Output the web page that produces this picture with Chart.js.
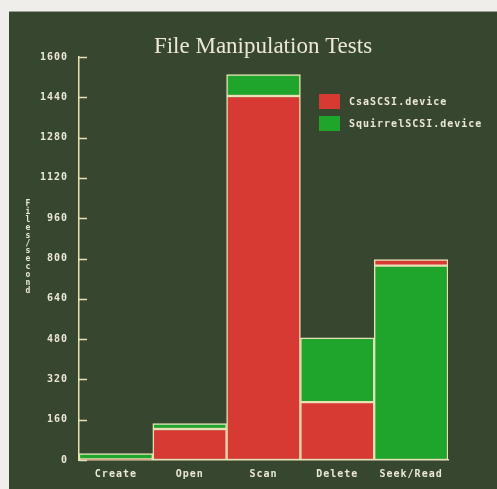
<!DOCTYPE html>
<html>
<head>
<meta charset="utf-8">
<script src="https://cdn.jsdelivr.net/npm/chart.js@4"></script>
<style>
  html, body { margin: 0; padding: 0; background: #efeeea; }
  #frame { position: relative; width: 497px; height: 489px; overflow: hidden; }
  #panel { position: absolute; left: 9px; top: 11px; width: 488px; height: 478px; background: #37462f; border-top: 1px solid #9aa092; }
  canvas { display: block; }
</style>
</head>
<body>
<div id="frame">
  <div id="panel"><canvas id="mainChart" width="488" height="478"></canvas></div>
</div>
<script>
const labels = ['Create', 'Open', 'Scan', 'Delete', 'Seek/Read'];
const csaValues = [2, 123, 1445, 230, 796];
const squirrelValues = [25, 145, 1530, 485, 772];
const yTicks = [0, 160, 320, 480, 640, 800, 960, 1120, 1280, 1440, 1600];
const chartTitle = 'File Manipulation Tests';
const yTitle = 'Files/second';

const RED = '#d63a33', GREEN = '#1fa42c', EDGE = '#e6e2b6', INK = '#ebe8da';
const MONO = "'DejaVu Sans Mono', monospace";

// overlapped bars: the smaller value sits in front, the larger one shows above it
function overlap(mine, other) {
    return mine.map((v, i) => v <= other[i] ? [0, v] : [other[i], v]);
}

const axisDeco = {
    id: 'axisDeco',
    beforeDraw(chart) {
        chart.ctx.letterSpacing = '1px';
    },
    afterDraw(chart) {
        const ctx = chart.ctx, y = chart.scales.y, a = chart.chartArea;
        ctx.save();
        ctx.letterSpacing = '0px';
        ctx.strokeStyle = EDGE;
        ctx.lineWidth = 1.5;
        yTicks.forEach(t => {
            let py = Math.round(y.getPixelForValue(t)) + 0.5;
            ctx.beginPath(); ctx.moveTo(a.left, py); ctx.lineTo(a.left + 8, py); ctx.stroke();
        });
        // title
        ctx.fillStyle = INK;
        ctx.font = "23px 'Liberation Serif', serif";
        ctx.textAlign = 'center';
        ctx.textBaseline = 'middle';
        ctx.fillText(chartTitle, 254, 35);
        // stacked y title
        ctx.font = 'bold 8px ' + MONO;
        yTitle.split('').forEach((c, i) => ctx.fillText(c, 19, 192 + i * 7.9));
        // legend
        ctx.font = 'bold 10px ' + MONO;
        ctx.letterSpacing = '1px';
        chart.data.datasets.forEach((ds, i) => {
            let ly = 82 + i * 22;
            ctx.fillStyle = ds.backgroundColor;
            ctx.fillRect(310, ly, 21, 15);
            ctx.fillStyle = INK;
            ctx.textAlign = 'left';
            ctx.fillText(ds.label, 340, ly + 8);
        });
        ctx.restore();
    }
};

new Chart(document.getElementById('mainChart'), {
    type: 'bar',
    data: {
        labels: labels,
        datasets: [
            { label: 'CsaSCSI.device', data: overlap(csaValues, squirrelValues), backgroundColor: RED },
            { label: 'SquirrelSCSI.device', data: overlap(squirrelValues, csaValues), backgroundColor: GREEN }
        ]
    },
    options: {
        responsive: false,
        animation: false,
        layout: { padding: { left: 0, right: 49, top: 45, bottom: 0 } },
        datasets: { bar: { grouped: false, barPercentage: 1, categoryPercentage: 1, borderColor: EDGE, borderWidth: 1.5, borderSkipped: false } },
        plugins: {
            legend: { display: false },
            tooltip: { enabled: false },
            title: { display: false }
        },
        scales: {
            x: {
                grid: { display: false, drawTicks: false },
                border: { display: true, color: EDGE, width: 1.5 },
                ticks: { color: INK, font: { family: MONO, size: 10, weight: 'bold' }, padding: 8 },
                afterFit: s => { s.height = 30; }
            },
            y: {
                min: 0, max: 1600,
                afterBuildTicks: s => { s.ticks = yTicks.map(v => ({ value: v })); },
                grid: { display: false, drawTicks: false },
                border: { display: true, color: EDGE, width: 1.5 },
                ticks: { color: INK, font: { family: MONO, size: 10, weight: 'bold' }, padding: 11, callback: v => String(v) },
                afterFit: s => { s.width = 70; }
            }
        }
    },
    plugins: [axisDeco]
});
</script>
</body>
</html>
